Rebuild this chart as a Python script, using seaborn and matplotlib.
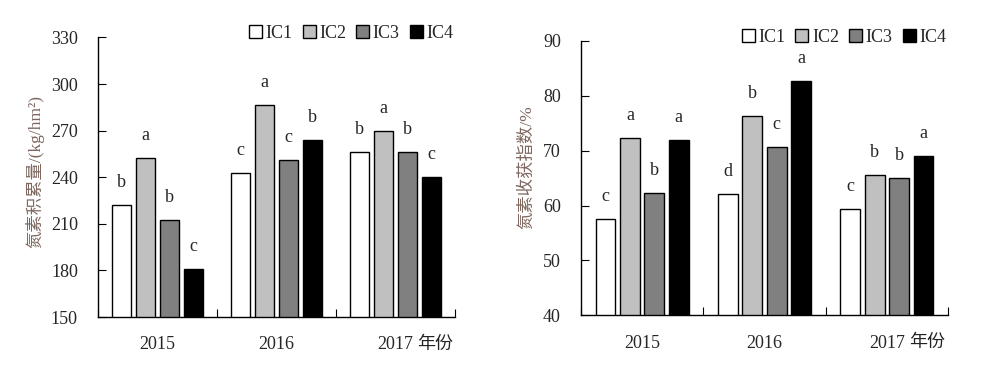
# -*- coding: utf-8 -*-

import matplotlib
matplotlib.use('Agg')
import matplotlib.pyplot as plt
import matplotlib.patches as mpatches
import seaborn as sns
import pandas as pd

years = ['2015', '2016', '2017']
treatments = ['IC1', 'IC2', 'IC3', 'IC4']
colors = ['#ffffff', '#c0c0c0', '#808080', '#000000']

# 氮素积累量 kg/hm2
acc_ic1 = [222.2, 243.0, 256.3]
acc_ic2 = [252.6, 286.7, 269.6]
acc_ic3 = [212.6, 251.4, 256.3]
acc_ic4 = [180.7, 264.0, 240.4]
acc_sig_ic1 = ['b', 'c', 'b']
acc_sig_ic2 = ['a', 'a', 'a']
acc_sig_ic3 = ['b', 'c', 'b']
acc_sig_ic4 = ['c', 'b', 'c']

# 氮素收获指数 %
nhi_ic1 = [57.5, 62.1, 59.4]
nhi_ic2 = [72.3, 76.3, 65.6]
nhi_ic3 = [62.3, 70.7, 65.1]
nhi_ic4 = [72.0, 82.7, 69.1]
nhi_sig_ic1 = ['c', 'd', 'c']
nhi_sig_ic2 = ['a', 'b', 'b']
nhi_sig_ic3 = ['b', 'c', 'b']
nhi_sig_ic4 = ['a', 'a', 'a']

sns.set_style('ticks')
plt.rcParams['font.family'] = ['Liberation Serif', 'Noto Sans CJK SC']
plt.rcParams['axes.edgecolor'] = 'black'
plt.rcParams['axes.linewidth'] = 1.0

FS = 13


def long_df(vals):
    rows = []
    for t, v in zip(treatments, vals):
        for y, x in zip(years, v):
            rows.append({'year': y, 'trt': t, 'value': x})
    return pd.DataFrame(rows)


def draw(ax, vals, sigs, ylim, yticks, ylabel, label_x, label_y):
    df = long_df(vals)
    sns.barplot(data=df, x='year', y='value', hue='trt', hue_order=treatments,
                palette=colors, saturation=1, edgecolor='black', linewidth=1,
                width=0.8, gap=0.19, legend=False, ax=ax)
    for cont, lab in zip(ax.containers, sigs):
        ax.bar_label(cont, labels=lab, padding=10, fontsize=FS)
    ax.set_ylim(ylim)
    ax.set_yticks(yticks)
    ax.set_xlim(-0.5, 2.5)
    ax.set_xticks([-0.5, 0.5, 1.5, 2.5])
    ax.set_xticks([0, 1, 2], minor=True)
    ax.set_xticklabels(years, minor=True)
    ax.tick_params(axis='x', which='major', direction='in', length=6,
                   labelbottom=False, color='black')
    ax.tick_params(axis='x', which='minor', length=0, pad=14, labelsize=FS)
    ax.tick_params(axis='y', direction='in', length=6, pad=14.5,
                   labelsize=FS, color='black')
    ax.set_xlabel('')
    ax.set_ylabel(ylabel, fontsize=12.5, color='#7d675f')
    ax.yaxis.set_label_coords(label_x, label_y)
    sns.despine(ax=ax)
    ax.text(0.895, -0.10, '年份', transform=ax.transAxes, fontsize=FS,
            ha='left', va='center', color='#222222')
    handles = [mpatches.Patch(facecolor=c, edgecolor='black', linewidth=1)
               for c in colors]
    ax.legend(handles, treatments, ncol=4, loc='upper right',
              bbox_to_anchor=(0.995, 1.045), frameon=False, fontsize=FS,
              handlelength=0.72, handleheight=0.72, handletextpad=0.2,
              columnspacing=0.55, borderaxespad=0, borderpad=0)


fig = plt.figure(figsize=(10, 3.65), dpi=100)
ax1 = fig.add_axes([0.098, 0.1315, 0.357, 0.766])
ax2 = fig.add_axes([0.581, 0.136, 0.367, 0.752])

draw(ax1, [acc_ic1, acc_ic2, acc_ic3, acc_ic4],
     [acc_sig_ic1, acc_sig_ic2, acc_sig_ic3, acc_sig_ic4],
     (150, 330), range(150, 331, 30), '氮素积累量/(kg/hm²)', -0.15, 0.52)
draw(ax2, [nhi_ic1, nhi_ic2, nhi_ic3, nhi_ic4],
     [nhi_sig_ic1, nhi_sig_ic2, nhi_sig_ic3, nhi_sig_ic4],
     (40, 90), range(40, 91, 10), '氮素收获指数/%', -0.125, 0.54)

plt.savefig('out.png', dpi=100)
plt.close()
